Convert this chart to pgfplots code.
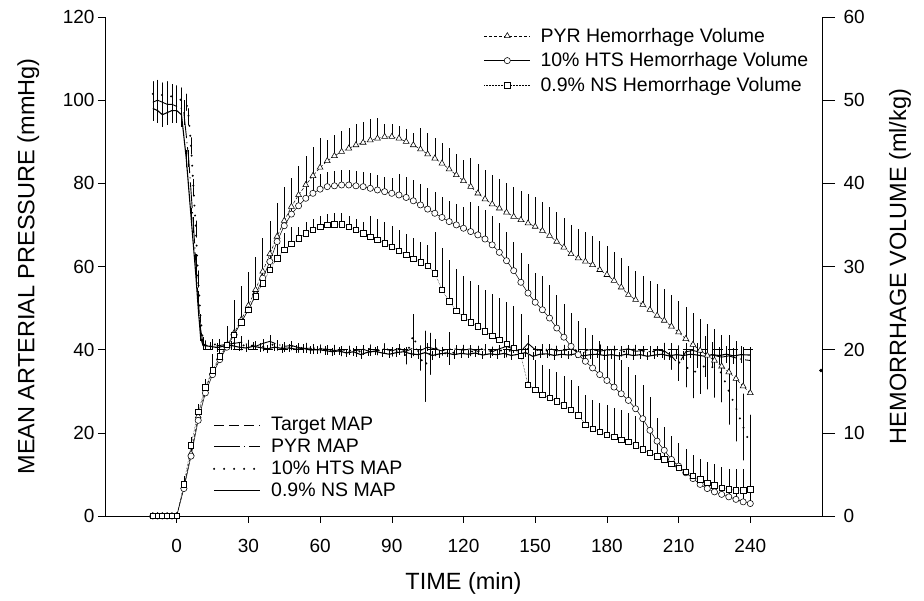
\documentclass[border=0pt]{standalone}
\usepackage{pgfplots}
\usepackage{pgfplotstable}
\pgfplotsset{compat=1.18}
\usepackage{fontspec}
\setmainfont{Liberation Sans}

% Hemorrhage volume (ml/kg): t  v  err(+)
\pgfplotstableread{
t v e
-10 0 0
-8 0 0
-6 0 0
-4 0 0
-2 0 0
0 0 0
3 3.5 1
6 7.5 1
9 12.0 1
12 15.3 1
15 17.3 2
18 19.0 2
21 20.5 2
24 22.0 4
27 23.6 4
30 25.3 4
33 27.2 4
36 29.4 4
39 31.5 4
42 33.6 4
45 35.5 4
48 37.2 3.5
51 38.6 3.5
54 39.8 3.5
57 40.9 3.5
60 41.9 3.5
63 42.7 2.5
66 43.3 2.5
69 43.8 2.5
72 44.2 2.5
75 44.6 2.5
78 44.9 2.5
81 45.2 2.5
84 45.4 2.5
87 45.6 1.5
90 45.6 1.5
93 45.4 1.5
96 45.0 1.5
99 44.6 1.5
102 44.1 2.5
105 43.5 2.5
108 43.0 2.5
111 42.4 2.5
114 41.7 2.5
117 41.0 2.5
120 40.3 2.5
123 39.6 3.5
126 38.8 3.5
129 38.1 3.5
132 37.5 3.5
135 37.0 3.5
138 36.5 3.5
141 36.0 3.5
144 35.6 3.5
147 35.2 3.5
150 34.8 3.5
153 34.3 3.5
156 33.7 3.5
159 33.0 3.5
162 32.3 3.5
165 31.5 3.5
168 31.0 3.5
171 30.6 3.5
174 30.2 3.5
177 29.6 3.5
180 29.0 3.5
183 28.3 3.5
186 27.5 3.5
189 26.6 3.5
192 26.0 3.5
195 25.4 3.5
198 24.8 3.5
201 24.1 3.8
204 23.5 3.8
207 22.8 3.8
210 22.1 3.8
213 21.3 3.8
216 20.6 3.8
219 19.9 3.8
222 19.3 3.8
225 18.7 3.8
228 18.0 3.8
231 17.3 4.5
234 16.5 4.5
237 15.6 4.5
240 14.8 4.5
}\pyrvol

\pgfplotstableread{
t v e
-10 0 0
-8 0 0
-6 0 0
-4 0 0
-2 0 0
0 0 0
3 3.3 1
6 7.2 1
9 11.5 1
12 14.8 1
15 17.0 2.5
18 18.8 2.5
21 20.3 2.5
24 21.8 2.5
27 23.3 2.5
30 24.8 2.5
33 26.6 3
36 28.6 3
39 30.6 3
42 33.0 3
45 34.9 3
48 36.3 3
51 37.3 1.8
54 38.2 1.8
57 38.8 1.8
60 39.3 1.8
63 39.6 1.8
66 39.7 1.8
69 39.8 1.8
72 39.8 1.8
75 39.7 1.8
78 39.6 1.8
81 39.4 1.8
84 39.2 1.8
87 39.0 1.8
90 38.8 1.8
93 38.6 2.5
96 38.3 2.5
99 37.9 2.5
102 37.4 2.5
105 36.9 2.5
108 36.4 2.5
111 35.9 2.5
114 35.4 2.5
117 35.0 2.5
120 34.6 2.5
123 34.2 3.5
126 33.8 3.5
129 33.3 3.5
132 32.6 3.5
135 31.7 3.5
138 30.7 3.5
141 29.5 3.5
144 28.1 3.5
147 26.8 3.5
150 25.7 3.5
153 24.8 4
156 23.8 4
159 22.6 4
162 21.5 4
165 20.4 4
168 19.4 4
171 18.6 4
174 17.8 4
177 17.0 4
180 16.3 4
183 15.5 4
186 14.7 4
189 13.9 4
192 12.9 4
195 11.7 4
198 10.3 4
201 9.0 2.8
204 7.9 2.8
207 6.8 2.8
210 6.0 2.8
213 5.2 2.8
216 4.5 2.8
219 3.8 2.8
222 3.3 2.8
225 2.9 2.8
228 2.6 2.8
231 2.3 2.8
234 2.0 2.8
237 1.7 2.8
240 1.5 2.8
}\htsvol

\pgfplotstableread{
t v e
-10 0 0
-8 0 0
-6 0 0
-4 0 0
-2 0 0
0 0 0
3 3.8 1
6 8.5 1
9 12.5 1
12 15.5 1
15 17.5 2
18 19.2 2
21 20.6 2
24 21.8 2
27 23.3 2
30 24.8 2
33 26.4 2
36 28.0 2
39 29.6 2
42 31.0 2
45 32.0 2
48 32.7 2
51 33.4 1.3
54 34.0 1.3
57 34.4 1.3
60 34.8 1.3
63 35.0 1.3
66 35.1 1.3
69 35.1 1.3
72 34.8 1.3
75 34.4 1.3
78 34.0 1.3
81 33.6 2.5
84 33.2 2.5
87 32.8 2.5
90 32.4 2.5
93 31.9 2.5
96 31.4 2.5
99 30.9 2.5
102 30.5 2.5
105 30.1 2.5
108 29.2 5
111 27.2 5
114 25.8 5
117 24.7 5
120 23.9 5
123 23.3 5
126 22.8 5
129 22.2 5
132 21.7 5
135 21.2 5
138 20.7 5
141 20.2 5
144 19.3 5
147 15.8 3.5
150 15.2 3.5
153 14.6 3.5
156 14.2 3.5
159 13.8 3.5
162 13.3 3.5
165 12.8 3.5
168 12.1 3.5
171 11.0 3.5
174 10.5 3.5
177 10.1 3.5
180 9.8 3.5
183 9.5 3.5
186 9.2 3.5
189 8.9 3.5
192 8.5 3.5
195 8.0 3.5
198 7.6 3.5
201 7.2 2.5
204 6.8 2.5
207 6.3 2.5
210 5.8 2.5
213 5.3 2.5
216 4.8 2.5
219 4.4 2.5
222 4.0 2.5
225 3.7 2.5
228 3.4 2.5
231 3.2 2.5
234 3.1 2.5
237 3.1 2.5
240 3.2 2.5
}\nsvol

% MAP (mmHg): t  m  err(+/-)
\pgfplotstableread{
t m e
-10 99.5 3
-8 100 3
-6 99.5 3
-4 99 3
-2 99 3
0 98.5 3
2 98 3
3 97 3
5 86 2
7 70 2
8 61 2
9 52 2
10 45 1
11 41.5 1
12 41 1
15 40.8 1
18 41 1
21 41.3 1
24 41.5 1.5
27 41.8 1.5
30 41.2 1
33 40.8 1
36 41.5 1
39 42 1.5
42 41.3 1
45 40.8 1
48 41 1
51 40.5 1
54 40.3 1
57 40.4 1
60 40.2 1
63 40.1 1
66 39.8 1
69 40.0 1
72 39.6 1
75 39.8 1
78 40.1 1
81 39.5 1
84 39.8 1
87 40.2 1
90 39.7 1
93 40.3 1
96 39.6 1
99 40.4 1
102 39.8 1
105 40.6 1
108 40.2 1
111 39.7 1
114 40.3 4
117 40.1 1
120 39.9 1
123 40.2 1
126 39.6 1
129 40.0 1
132 39.5 1
135 40.2 1
138 40.8 1
141 40.1 1
144 39.6 1.5
147 41.5 2
150 40.0 1
153 39.8 1
156 40.3 1
159 39.7 1
162 39.9 1
165 40.2 1
168 39.5 1
171 39.8 1
174 40.1 1
177 39.6 1
180 40.0 1
183 39.7 1
186 39.9 1
189 40.2 1
192 39.6 1
195 39.8 1
198 39.5 1
201 39.9 1
204 39.7 2
207 38.5 3
210 36.5 4
213 39.5 2
216 39.8 2
219 39.4 2
222 39.0 2
225 38.6 2.5
228 38.2 2.5
231 38.5 2.5
234 38.0 3
237 37.6 3
240 37.4 3
}\pyrmap

\pgfplotstableread{
t m e
-10 101.5 3
-8 101.8 3
-6 101.2 3
-4 101.5 3
-2 100.8 3
0 100.5 3
2 100 3
4 99.5 2
5 96 2
6 89 2
7 79 2
8 69 2
9 57 2
10 47.5 1
11 42 1
12 41.2 1
15 41.5 1
18 40.8 1
21 41.2 1
24 41.6 1
27 40.9 1
30 41.3 1
33 41.0 1
36 40.7 1
39 41.4 1
42 40.8 1
45 40.5 1
48 40.9 1
51 40.3 1
54 40.6 1
57 40.0 1
60 40.2 1
63 39.8 1
66 40.1 1
69 39.5 1
72 39.9 1
75 39.3 1
78 39.8 1
81 40.2 1
84 39.7 1
87 40.5 1
90 39.4 1
93 39.8 1
96 38.5 2
99 43.5 5
102 38.0 3
104 36.0 8.5
106 39.0 5
108 40.5 2
111 39.6 1
114 38.5 2
117 39.8 1
120 40.1 1
123 39.5 1
126 39.9 1
129 40.3 1
132 39.7 1
135 40.0 1
138 39.2 1
141 40.4 1
144 39.6 1
147 40.2 1
150 39.8 1
153 40.3 1
156 39.5 1
159 39.9 1
162 40.1 1
165 39.6 1
168 40.0 1
171 39.4 1
174 39.8 1
177 40.2 1
180 39.6 1
183 39.9 1
186 39.4 1
189 39.8 1
192 40.1 1
195 39.5 1
198 39.8 1
201 39.3 1
204 39.6 2
207 38.2 3
210 37.0 4
213 36.0 5
216 34.4 6
219 35.4 6
222 36.5 6
225 35.5 7
228 34.4 7
231 30.0 8
234 26.0 8
237 21.4 8
240 17.3 7
}\htsmap

\pgfplotstableread{
t m e
-10 98 3
-8 97.5 3
-6 96.5 3
-4 97 3
-2 97.5 3
0 97.5 3
2 96.5 3
4 86 2
6 72 2
8 58 2
9 50 2
10 43 1
11 41 1
14 40.8 1
17 40.5 1
20 40.9 1
23 41.0 1
26 40.6 1
29 40.4 1
32 40.8 1
35 40.5 1
38 40.2 1
41 40.6 1
44 40.3 1
47 40.4 1
50 40.1 1
53 40.3 1
56 39.9 1
59 40.0 1
62 39.8 1
65 39.5 1
68 39.7 1
71 39.2 1
74 39.5 1
77 38.8 1
80 39.4 1
83 39.6 1
86 39.2 1
89 38.9 1
92 39.3 1
95 39.5 1
98 39.0 1
101 38.8 1
104 39.3 1
107 38.6 1
110 39.0 1
113 39.2 1
116 38.8 1
119 39.1 1
122 38.9 1
125 39.2 1
128 38.7 1
131 39.0 1
134 38.8 1
137 39.1 1
140 38.6 1
143 38.9 1
146 39.3 1
149 38.4 1
152 38.9 1
155 39.0 1
158 38.6 1
161 38.9 1
164 38.7 1
167 39.0 1
170 38.5 1
173 38.8 1
176 38.9 1
179 38.6 1
182 38.8 1
185 38.5 1
188 38.9 1
191 38.6 1
194 38.8 1
197 38.4 1
200 38.7 1
203 38.9 1
206 38.5 1
209 38.8 1
212 38.6 1
215 38.9 1
218 38.7 3
221 38.4 5
224 38.8 3
227 38.6 2
230 38.9 2
233 38.5 2
236 38.8 2
240 38.7 2
}\nsmap

\begin{document}
\begin{tikzpicture}
\pgfplotsset{
  every axis/.append style={
    font=\fontsize{19}{22}\selectfont,
    /pgf/number format/assume math mode=true,
  },
}
\begin{axis}[
  scale only axis, width=717pt, height=499pt,
  xmin=-30, xmax=270, ymin=0, ymax=120,
  xtick={0,30,...,240}, ytick={0,20,...,120},
  axis x line*=bottom, axis y line*=left,
  axis line style={-, black, line width=0.6pt},
  tick align=outside, major tick length=7pt,
  tick style={black, line width=0.6pt},
  xticklabel style={yshift=-13pt},
  xlabel={TIME (min)}, ylabel={MEAN ARTERIAL PRESSURE (mmHg)},
  label style={font=\fontsize{23.5}{28}\selectfont},
  xlabel style={at={(axis description cs:0.5,-0.135)}, anchor=center},
  ylabel style={at={(axis description cs:-0.107,0.5)}, anchor=center},
  legend style={at={(axis description cs:0.149,0.204)}, anchor=north west,
    draw=none, fill=none, font=\fontsize{19.5}{22}\selectfont,
    row sep=3pt, inner sep=1pt,
    /tikz/every odd column/.append style={column sep=8pt}},
  legend cell align=left,
  legend image code/.code={\draw[#1] (0pt,0pt) -- (46pt,0pt);},
  error bars/y dir=both, error bars/y explicit,
  error bars/error mark=none,
  error bars/error bar style={solid, line width=0.45pt},
]
\addplot[black, line width=0.6pt, dash pattern=on 10pt off 5pt] coordinates {(11,40) (241,40)};
\addlegendentry{Target MAP}
\addplot[black, line width=0.9pt, dash pattern=on 26pt off 4pt on 1.2pt off 4pt] table[x=t, y=m, y error=e] {\pyrmap};
\addlegendentry{PYR MAP}
\addplot[black, line width=2.2pt, line cap=round, dash pattern=on 0pt off 10pt] table[x=t, y=m, y error=e] {\htsmap};
\addlegendentry{10\% HTS MAP}
\addplot[black, line width=1.1pt] table[x=t, y=m, y error=e] {\nsmap};
\addlegendentry{0.9\% NS MAP}
\addplot[only marks, mark=*, mark size=1.6pt, black, forget plot] coordinates {(269.6,35)};
\end{axis}

\begin{axis}[
  scale only axis, width=717pt, height=499pt,
  xmin=-30, xmax=270, ymin=0, ymax=60,
  ytick={0,10,...,60},
  axis x line=none, axis y line*=right,
  axis line style={-, black, line width=0.6pt},
  tick align=outside, major tick length=13pt,
  tick style={black, line width=0.6pt},
  yticklabel style={xshift=5pt},
  ylabel={HEMORRHAGE VOLUME (ml/kg)},
  label style={font=\fontsize{23.5}{28}\selectfont},
  ylabel style={at={(axis description cs:1.109,0.5)}, anchor=center, rotate=0},
  legend style={at={(axis description cs:0.527,0.984)}, anchor=north west,
    draw=none, fill=none, font=\fontsize{19.5}{22}\selectfont,
    row sep=5pt, inner sep=1pt,
    /tikz/every odd column/.append style={column sep=8pt}},
  legend cell align=left,
  legend image code/.code={\draw[#1, mark repeat=2, mark phase=2] plot coordinates {(0pt,0pt) (23pt,0pt) (46pt,0pt)};},
  error bars/y dir=plus, error bars/y explicit,
  error bars/error mark=none,
  error bars/error bar style={solid, line width=0.5pt},
]
\addplot[black, line width=0.5pt, densely dashed, mark=triangle*, mark size=3.4pt,
  mark options={solid, fill=white, line width=0.55pt}] table[x=t, y=v, y error=e] {\pyrvol};
\addlegendentry{PYR Hemorrhage Volume}
\addplot[black, line width=0.5pt, mark=*, mark size=3.1pt,
  mark options={solid, fill=white, line width=0.55pt}] table[x=t, y=v, y error=e] {\htsvol};
\addlegendentry{10\% HTS Hemorrhage Volume}
\addplot[black, line width=0.5pt, densely dotted, mark=square*, mark size=2.7pt,
  mark options={solid, fill=white, line width=0.55pt}] table[x=t, y=v, y error=e] {\nsvol};
\addlegendentry{0.9\% NS Hemorrhage Volume}
\end{axis}
\pgfresetboundingbox
\path (-105pt,-85pt) rectangle (819pt,516pt);
\end{tikzpicture}
\end{document}
